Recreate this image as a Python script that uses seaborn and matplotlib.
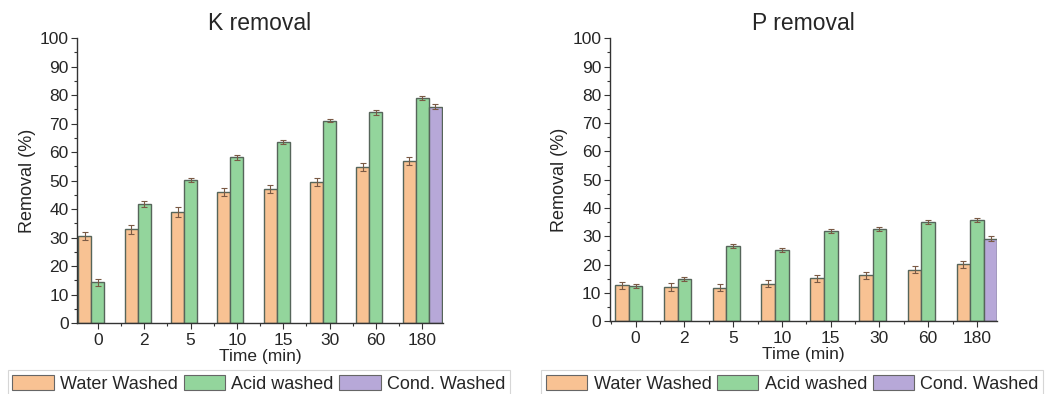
import numpy as np
import pandas as pd
import matplotlib
matplotlib.use("Agg")
import matplotlib.pyplot as plt
import seaborn as sns
from matplotlib.ticker import MultipleLocator, FixedLocator

# ── data ─────────────────────────────────────────────────────────────────
times = ["0", "2", "5", "10", "15", "30", "60", "180"]
series = ["Water Washed", "Acid washed", "Cond. Washed"]

k_water = [30.6, 33.0, 39.0, 46.0, 47.0, 49.4, 54.7, 57.0]
k_acid = [14.3, 41.9, 50.3, 58.2, 63.5, 71.1, 74.0, 79.0]
k_cond = [76.0]
k_water_err = [1.5, 1.6, 1.6, 1.5, 1.5, 1.4, 1.4, 1.4]
k_acid_err = [1.2, 1.0, 0.8, 0.8, 0.8, 0.6, 0.9, 0.8]
k_cond_err = [1.0]

p_water = [12.6, 12.0, 11.8, 13.2, 15.1, 16.2, 18.2, 20.1]
p_acid = [12.4, 14.9, 26.6, 25.0, 31.9, 32.5, 35.1, 35.7]
p_cond = [29.2]
p_water_err = [1.3, 1.3, 1.3, 1.3, 1.3, 1.3, 1.3, 1.3]
p_acid_err = [0.8, 0.8, 0.8, 0.7, 0.7, 0.7, 0.8, 0.8]
p_cond_err = [1.0]

cond_times = ["180"]

palette = {"Water Washed": "#f8c293", "Acid washed": "#93d59c", "Cond. Washed": "#b7a8d8"}

sns.set_theme(style="white")
plt.rcParams["font.family"] = ["Liberation Sans", "DejaVu Sans"]


def make_frame(water, acid, cond):
    rows = []
    for t, v in zip(times, water):
        rows.append({"Time": t, "Series": series[0], "Removal": v})
    for t, v in zip(times, acid):
        rows.append({"Time": t, "Series": series[1], "Removal": v})
    for t, v in zip(cond_times, cond):
        rows.append({"Time": t, "Series": series[2], "Removal": v})
    return pd.DataFrame(rows)


def draw_panel(ax, df, errs, title, xlim):
    sns.barplot(
        data=df, x="Time", y="Removal", hue="Series",
        order=times, hue_order=series, palette=palette,
        width=0.84, errorbar=None, saturation=1,
        edgecolor="#56655a", linewidth=1.0, ax=ax,
    )
    # error bars on top of each drawn bar
    for cont, err in zip(ax.containers, errs):
        xs = [b.get_x() + b.get_width() / 2 for b in cont]
        ys = [b.get_height() for b in cont]
        ax.errorbar(xs, ys, yerr=err, fmt="none", ecolor="#7a5a45",
                    elinewidth=0.8, capsize=2.5, capthick=0.8)

    ax.set_ylim(0, 100)
    ax.set_xlim(*xlim)
    ax.yaxis.set_major_locator(MultipleLocator(10))
    ax.yaxis.set_minor_locator(MultipleLocator(5))
    ax.xaxis.set_minor_locator(FixedLocator(np.arange(-0.5, 8, 1.0)))
    ax.tick_params(axis="both", which="major", direction="out", length=4,
                   width=0.8, labelsize=12.5, pad=2, color="#333333",
                   bottom=True, left=True)
    ax.tick_params(axis="x", which="major", pad=3)
    ax.tick_params(axis="both", which="minor", direction="out", length=2.5,
                   width=0.8, color="#333333", bottom=True, left=True)
    sns.despine(ax=ax)
    for s in ("left", "bottom"):
        ax.spines[s].set_color("#333333")
        ax.spines[s].set_linewidth(1.0)
    ax.set_title(title, fontsize=16.5, pad=6)
    ax.set_ylabel("Removal (%)", fontsize=13, labelpad=3)
    ax.set_xlabel("Time (min)", fontsize=12.5, labelpad=1)
    ax.legend_.remove()


fig = plt.figure(figsize=(10.55, 3.94), dpi=100)
ax1 = fig.add_axes([0.073, 0.180, 0.347, 0.723])
ax2 = fig.add_axes([0.578, 0.185, 0.367, 0.718])

draw_panel(ax1, make_frame(k_water, k_acid, k_cond),
           [k_water_err, k_acid_err, k_cond_err], "K removal", (-0.45, 7.45))
draw_panel(ax2, make_frame(p_water, p_acid, p_cond),
           [p_water_err, p_acid_err, p_cond_err], "P removal", (-0.53, 7.41))

# legends below each panel
handles = [plt.Rectangle((0, 0), 1, 1, facecolor=palette[s], edgecolor="#666666",
                         linewidth=0.8) for s in series]
for ax, anchor in ((ax1, (0.0075, -0.008)), (ax2, (0.513, -0.008))):
    leg = fig.legend(handles, series, loc="lower left", bbox_to_anchor=anchor,
                     ncol=3, fontsize=13, frameon=True, fancybox=False,
                     handlelength=2.3, handleheight=0.95, handletextpad=0.35,
                     columnspacing=0.3, borderpad=0.25, borderaxespad=0.0)
    leg.get_frame().set_edgecolor("#cccccc")
    leg.get_frame().set_linewidth(0.8)

fig.savefig("out.png", dpi=100)
